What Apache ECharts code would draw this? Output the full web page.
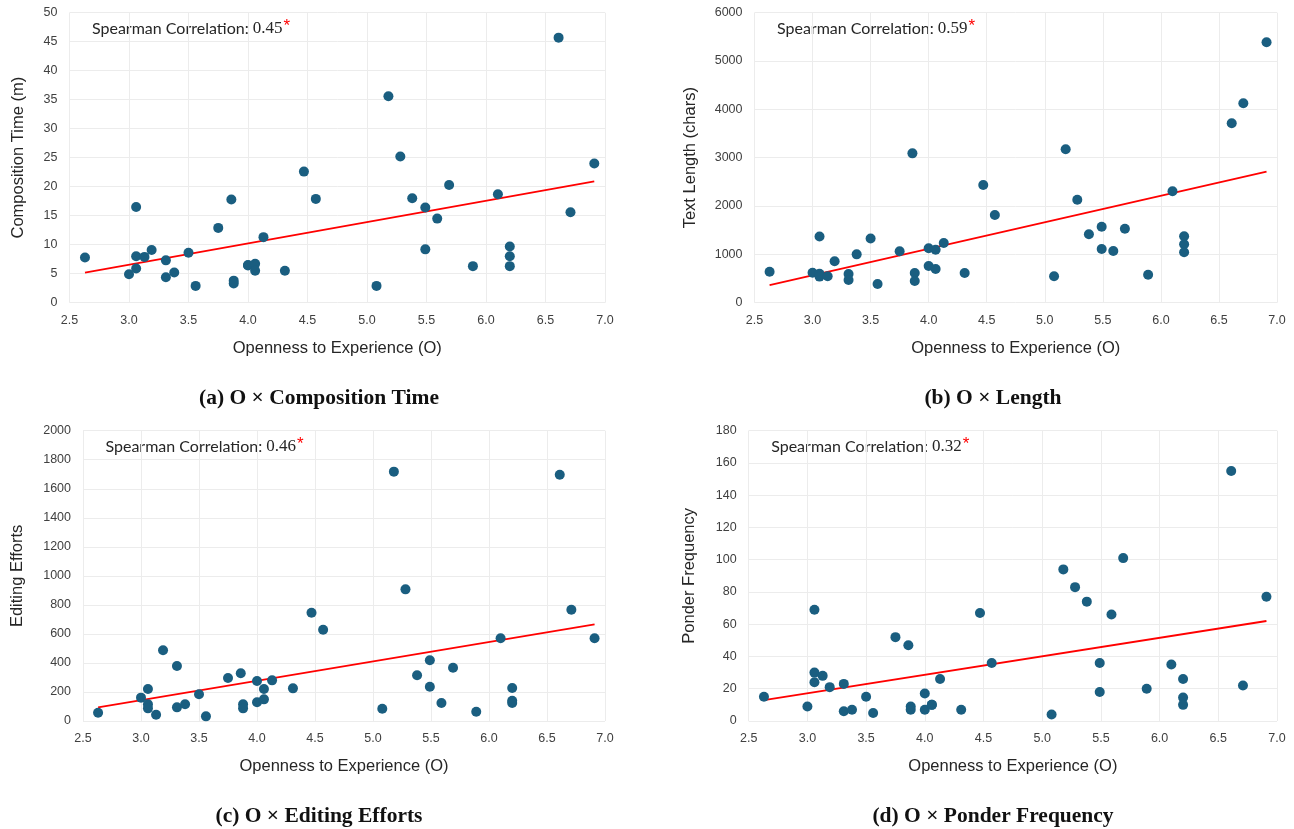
<!DOCTYPE html>
<html>
<head>
<meta charset="utf-8">
<script src="https://cdn.jsdelivr.net/npm/echarts@6/dist/echarts.min.js"></script>
<style>
  html, body { margin: 0; padding: 0; background: #fff; }
  #chart { width: 1294px; height: 829px; }
</style>
</head>
<body>
<div id="chart"></div>
<script>
// openness score of each participant (x of every panel)
var openness = [2.63, 3.0, 3.06, 3.06, 3.06, 3.13, 3.19, 3.31, 3.31, 3.38,
    3.5, 3.56, 3.75, 3.86, 3.88, 3.88, 4.0, 4.0, 4.06, 4.06,
    4.13, 4.31, 4.47, 4.57, 5.08, 5.18, 5.28, 5.38, 5.49, 5.49,
    5.59, 5.69, 5.89, 6.1, 6.2, 6.2, 6.2, 6.61, 6.71, 6.91];

var compTime = [7.8, 4.9, 16.5, 8.0, 5.9, 7.9, 9.1, 7.3, 4.4, 5.2,
    8.6, 2.9, 12.9, 17.8, 3.8, 3.3, 6.4, 6.5, 6.7, 5.5,
    11.3, 5.5, 22.6, 17.9, 2.9, 35.6, 25.2, 18.0, 16.4, 9.2,
    14.5, 20.3, 6.3, 18.7, 9.7, 8.0, 6.3, 45.7, 15.6, 24.0];

var textLength = [640, 620, 1370, 600, 540, 546, 856, 594, 470, 1000,
    1330, 387, 1063, 3090, 614, 449, 1125, 759, 1097, 697,
    1235, 614, 2435, 1815, 546, 3174, 2131, 1415, 1572, 1111,
    1070, 1531, 579, 2305, 1374, 1208, 1043, 3712, 4126, 5388];

var editing = [57, 161, 220, 115, 87, 43, 487, 379, 94, 115,
    184, 32, 296, 329, 115, 87, 276, 129, 220, 149,
    280, 225, 746, 629, 85, 1718, 907, 315, 418, 236,
    124, 367, 64, 570, 227, 140, 124, 1697, 767, 570];

var ponder = [15, 9, 69, 30, 24, 28, 21, 23, 6, 7,
    15, 5, 52, 47, 9, 7, 17, 7, 10, 10,
    26, 7, 67, 36, 4, 94, 83, 74, 36, 18,
    66, 101, 20, 35, 26, 14.5, 10, 155, 22, 77];

// fitted trend line ends
var trendX = [2.63, 6.91];
var trendComp = [5.2, 20.9];
var trendLength = [366, 2711];
var trendEditing = [94, 666];
var trendPonder = [13, 62];

var yNames = ['Composition Time (m)', 'Text Length (chars)', 'Editing Efforts', 'Ponder Frequency'];
var yMax = [50, 6000, 2000, 180];
var yStep = [5, 1000, 200, 20];
var rhos = ['0.45', '0.59', '0.46', '0.32'];
var captions = ['(a) O \u00d7 Composition Time', '(b) O \u00d7 Length', '(c) O \u00d7 Editing Efforts', '(d) O \u00d7 Ponder Frequency'];

var panels = [
    { left: 69.5, top: 12.7, width: 535.5, height: 290, gap: 43, ys: compTime, trend: trendComp },
    { left: 754.5, top: 12.7, width: 522.5, height: 290, gap: 56, ys: textLength, trend: trendLength },
    { left: 83, top: 430.7, width: 522, height: 290.3, gap: 57, ys: editing, trend: trendEditing },
    { left: 748.7, top: 430.7, width: 528.3, height: 290.3, gap: 50.5, ys: ponder, trend: trendPonder }
];

var sans = 'Liberation Sans';
var grids = [], xAxes = [], yAxes = [], series = [], graphics = [];

panels.forEach(function (p, i) {
    grids.push({ left: p.left, top: p.top, width: p.width, height: p.height, containLabel: false });
    xAxes.push({
        gridIndex: i, type: 'value', min: 2.5, max: 7.0, interval: 0.5,
        name: 'Openness to Experience (O)', nameLocation: 'middle', nameGap: 37,
        nameTextStyle: { fontFamily: sans, fontSize: 16.5, color: '#262626' },
        axisLine: { show: false }, axisTick: { show: false },
        axisLabel: { fontFamily: sans, fontSize: 12.5, color: '#404040', margin: 11,
            formatter: function (v) { return v.toFixed(1); } },
        splitLine: { lineStyle: { color: '#ececec', width: 1 } }
    });
    yAxes.push({
        gridIndex: i, type: 'value', min: 0, max: yMax[i], interval: yStep[i],
        name: yNames[i], nameLocation: 'middle', nameGap: p.gap,
        nameTextStyle: { fontFamily: sans, fontSize: 16.5, color: '#262626' },
        axisLine: { show: false }, axisTick: { show: false },
        axisLabel: { fontFamily: sans, fontSize: 12.5, color: '#404040', margin: 12,
            formatter: function (v) { return String(v); } },
        splitLine: { lineStyle: { color: '#ececec', width: 1 } }
    });
    series.push({
        type: 'line', xAxisIndex: i, yAxisIndex: i, showSymbol: false, silent: true,
        data: trendX.map(function (x, k) { return [x, p.trend[k]]; }),
        lineStyle: { color: '#ff0000', width: 1.8 }, z: 2
    });
    series.push({
        type: 'scatter', xAxisIndex: i, yAxisIndex: i, symbolSize: 10,
        data: openness.map(function (x, k) { return [x, p.ys[k]]; }),
        itemStyle: { color: '#1a5e80', opacity: 1 }, z: 3
    });
    graphics.push({
        type: 'text', x: p.left + 22.5, y: p.top + 16,
        style: {
            text: '{a|Spearman Correlation: }{b|' + rhos[i] + '}{c|*}',
            verticalAlign: 'middle',
            rich: {
                a: { fontFamily: 'Lato', fontSize: 16, lineHeight: 20, fill: '#262626', color: '#262626' },
                b: { fontFamily: 'Liberation Serif', fontSize: 17, lineHeight: 20, fill: '#262626', color: '#262626' },
                c: { fontFamily: sans, fontSize: 17, lineHeight: 20, fill: '#ff0000', color: '#ff0000', padding: [0, 0, 4, 1] }
            }
        }
    });
});

var capPos = [[319, 398], [993, 398], [319, 816], [993, 816]];
captions.forEach(function (c, i) {
    graphics.push({
        type: 'text', x: capPos[i][0], y: capPos[i][1],
        style: { text: c, align: 'center', verticalAlign: 'middle',
            font: 'bold 21.5px "Liberation Serif"', fill: '#111' }
    });
});

var chart = echarts.init(document.getElementById('chart'));
chart.setOption({
    animation: false,
    backgroundColor: '#fff',
    grid: grids,
    xAxis: xAxes,
    yAxis: yAxes,
    series: series,
    graphic: graphics
});
</script>
</body>
</html>
